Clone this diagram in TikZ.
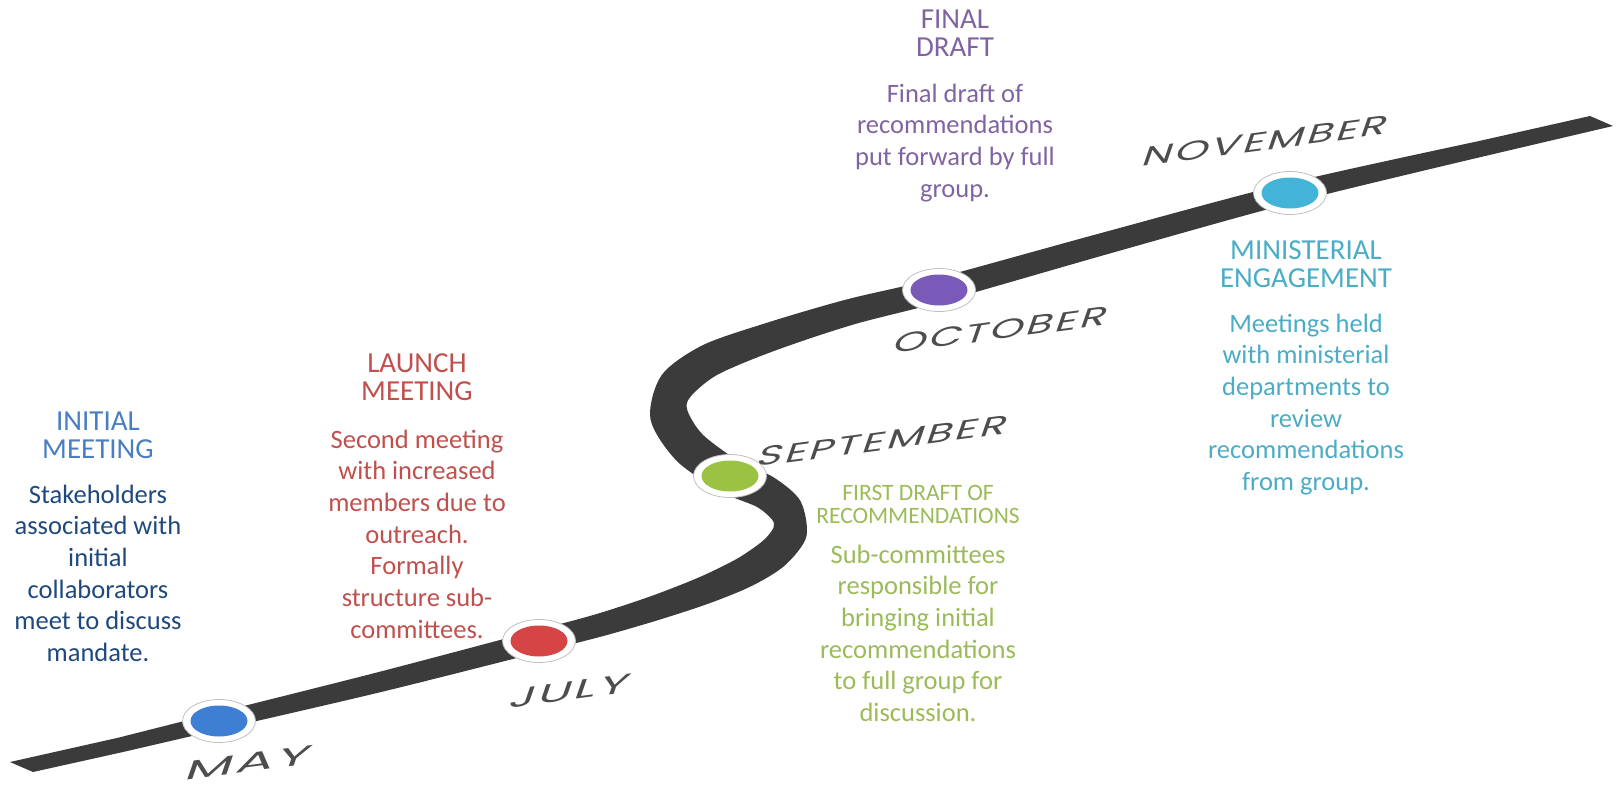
\documentclass[tikz,border=0pt]{standalone}
\usepackage{fontspec}
\setmainfont{Carlito}
\newfontfamily\monthfont[LetterSpace=6]{Poppins}
\usetikzlibrary{calc,shapes.geometric}

\definecolor{roadgray}{HTML}{3B3B3B}
\definecolor{monthgray}{HTML}{4D4D4D}
\definecolor{initblue}{HTML}{4A7EC3}
\definecolor{initdark}{HTML}{1F497D}
\definecolor{launchred}{HTML}{C0504D}
\definecolor{draftgreen}{HTML}{9BBB59}
\definecolor{finalpurple}{HTML}{8064A2}
\definecolor{minicyan}{HTML}{4BACC6}
\definecolor{mayblue}{HTML}{3E7FD3}
\definecolor{julyred}{HTML}{D64545}
\definecolor{septgreen}{HTML}{9BC242}
\definecolor{octpurple}{HTML}{7A5AB8}
\definecolor{novcyan}{HTML}{44B3D8}

\tikzset{
  ring/.style={ellipse, fill=white, draw=black!25, line width=0.8pt,
    minimum width=73pt, minimum height=43pt, inner sep=0pt},
  dot/.style={ellipse, minimum width=57pt, minimum height=31pt, inner sep=0pt},
  month/.style={rotate=7.5, xslant=0.5, yscale=0.72, xscale=#1, inner sep=0pt,
    text=monthgray, font=\monthfont\fontsize{36}{36}\selectfont},
  head/.style={anchor=north, align=center, inner sep=0pt,
    font=\fontsize{29}{28}\selectfont},
  body/.style={anchor=north, align=center, inner sep=0pt,
    font=\fontsize{26.5}{31.7}\selectfont}
}

\begin{document}
\begin{tikzpicture}[x=1pt, y=-1pt]
  \useasboundingbox (0,0) rectangle (1618,789);

  % centre line of the road
  \foreach \i/\x/\y in {0/20/767, 1/120/745, 2/219/721, 3/380/682, 4/539/641,
      5/600/625, 6/655/608, 7/705/590, 8/745/572, 9/774/553, 10/790/532,
      11/786/510, 12/765/492, 13/731/477, 14/690/448, 15/669/415, 16/676/386,
      17/710/360, 18/770/337, 19/850/312, 20/939/290, 21/1110/242, 22/1290/193,
      23/1480/149, 24/1602/121}
    \coordinate (c\i) at (\x,\y);

  % both edges, half width per point
  \foreach \i/\w in {1/7.5pt, 2/8.5pt, 3/10pt, 4/11pt, 5/11.5pt, 6/12.5pt, 7/14pt,
      8/15.5pt, 9/16.5pt, 10/17pt, 11/17pt, 12/17pt, 13/17.5pt, 14/18.5pt, 15/19pt,
      16/18pt, 17/16.5pt, 18/14.5pt, 19/13pt, 20/12pt, 21/11pt, 22/10pt, 23/8pt} {
    \pgfmathtruncatemacro\p{\i-1}
    \pgfmathtruncatemacro\n{\i+1}
    \coordinate (n\i) at ($(c\p)!\w!90:(c\n)$);
    \coordinate (m\i) at ($(c\p)!\w!-90:(c\n)$);
    \coordinate (u\i) at ($(c\i)+(n\i)-(c\p)$);
    \coordinate (l\i) at ($(c\i)+(m\i)-(c\p)$);
  }

  \fill[roadgray] (10,762) -- plot[smooth] coordinates {(u1) (u2) (u3) (u4) (u5)
      (u6) (u7) (u8) (u9) (u10) (u11) (u12) (u13) (u14) (u15) (u16) (u17) (u18)
      (u19) (u20) (u21) (u22) (u23)} -- (1590,116) -- (1613,126)
    -- plot[smooth] coordinates {(l23) (l22) (l21) (l20) (l19) (l18) (l17) (l16)
      (l15) (l14) (l13) (l12) (l11) (l10) (l9) (l8) (l7) (l6) (l5) (l4) (l3) (l2)
      (l1)} -- (33,772) -- cycle;

  % milestones
  \node[ring] (mayring) at (219,721) {};
  \node[dot, fill=mayblue] (may) at (mayring) {};
  \node[ring] (julyring) at (539,641) {};
  \node[dot, fill=julyred] (july) at (julyring) {};
  \node[ring] (septring) at (730,476) {};
  \node[dot, fill=septgreen] (sept) at (septring) {};
  \node[ring] (octring) at (939,290) {};
  \node[dot, fill=octpurple] (oct) at (octring) {};
  \node[ring] (novring) at (1290,193) {};
  \node[dot, fill=novcyan] (nov) at (novring) {};

  \node[month=1.55] (maylabel) at (249,763) {MAY};
  \node[month=1.38] (julylabel) at (570,691) {JULY};
  \node[month=1.2] (septlabel) at (883,441) {SEPTEMBER};
  \node[month=1.2] (octlabel) at (1001,330) {OCTOBER};
  \node[month=1.2] (novlabel) at (1266,141) {NOVEMBER};

  % texts
  \node[head, text=initblue] (inithead) at (98,410.4) {\strut INITIAL\\MEETING};
  \node[body, text=initdark] (initbody) at (98,480.8) {\strut Stakeholders\\
    associated with\\initial\\collaborators\\meet to discuss\\mandate.};

  \node[head, text=launchred] (launchhead) at (417,352.4) {\strut LAUNCH\\MEETING};
  \node[body, text=launchred] (launchbody) at (417,425.8) {\strut Second meeting\\
    with increased\\members due to\\outreach.\\Formally\\structure sub-\\committees.};

  \node[head, text=draftgreen, font=\fontsize{23.5}{23}\selectfont] (drafthead)
    at (918,483.9) {\strut FIRST DRAFT OF\\RECOMMENDATIONS};
  \node[body, text=draftgreen] (draftbody) at (918,540.8) {\strut Sub-committees\\
    responsible for\\bringing initial\\recommendations\\to full group for\\discussion.};

  \node[head, text=finalpurple] (finalhead) at (955,8.4) {\strut FINAL\\DRAFT};
  \node[body, text=finalpurple] (finalbody) at (955,79.8) {\strut Final draft of\\
    recommendations\\put forward by full\\group.};

  \node[head, text=minicyan] (minihead) at (1306,239.4) {\strut MINISTERIAL\\ENGAGEMENT};
  \node[body, text=minicyan] (minibody) at (1306,309.8) {\strut Meetings held\\
    with ministerial\\departments to\\review\\recommendations\\from group.};
\end{tikzpicture}
\end{document}
